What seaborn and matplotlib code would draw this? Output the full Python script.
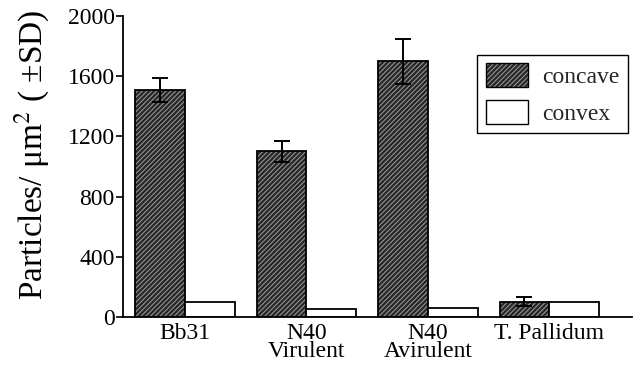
import numpy as np
import pandas as pd
import matplotlib
matplotlib.use("Agg")
import matplotlib.pyplot as plt
import matplotlib.patches as mpatches
import seaborn as sns

# datos
strains = ["Bb31", "N40\nVirulent", "N40\nAvirulent", "T. Pallidum"]
concave = [1510, 1100, 1700, 100]
concave_sd = [80, 70, 150, 30]
convex = [100, 50, 60, 100]

df = pd.DataFrame({
    "strain": strains * 2,
    "surface": ["concave"] * 4 + ["convex"] * 4,
    "value": concave + convex,
})

sns.set_theme(style="ticks")
plt.rcParams["font.family"] = ["Liberation Serif", "DejaVu Serif"]
plt.rcParams["mathtext.fontset"] = "stix"
plt.rcParams["hatch.linewidth"] = 0.8

fig = plt.figure(figsize=(6.37, 3.71), dpi=100)
ax = fig.add_axes([123 / 637, 1 - 317 / 371, (632 - 123) / 637, (317 - 16) / 371])

dark = "#262626"
hatch_col = (0.58, 0.58, 0.58, 1)
sns.barplot(data=df, x="strain", y="value", hue="surface",
            palette={"concave": dark, "convex": "white"},
            width=0.82, edgecolor="black", linewidth=1.3,
            legend=False, ax=ax)

bars = [p for p in ax.patches if isinstance(p, mpatches.Rectangle)]
conc_bars = bars[:4]
for p in conc_bars:
    p.set_hatch("///////")
    p._hatch_color = hatch_col

xs = [p.get_x() + p.get_width() / 2 for p in conc_bars]
ax.errorbar(xs, concave, yerr=concave_sd, fmt="none", ecolor="black",
            elinewidth=1.4, capsize=6, capthick=1.4)

ax.set_ylim(0, 2000)
ax.set_xlim(-0.51, 3.68)
ax.set_yticks([0, 400, 800, 1200, 1600, 2000])
ax.tick_params(axis="y", direction="out", length=5, width=1.2, labelsize=17, pad=1, colors="black")
ax.tick_params(axis="x", length=0, labelsize=17, pad=4, colors="black")
for lab in ax.get_xticklabels():
    lab.set_linespacing(0.85)
sns.despine(ax=ax)
for s in ["left", "bottom"]:
    ax.spines[s].set_linewidth(1.3)
    ax.spines[s].set_color("black")

ax.set_xlabel("")
ax.set_ylabel("Particles/ μm$^2$ ( ±SD)", fontsize=24, color="black")
ax.yaxis.set_label_coords(-0.14, 0.54)

handles = [
    mpatches.Patch(facecolor=dark, edgecolor="black", hatch="///////", label="concave"),
    mpatches.Patch(facecolor="white", edgecolor="black", label="convex"),
]
for h in handles:
    h._hatch_color = hatch_col
leg = ax.legend(handles=handles, loc="upper right", fontsize=17,
                bbox_to_anchor=(628 / 637, 1 - 55 / 371), bbox_transform=fig.transFigure,
                borderaxespad=0, fancybox=False, framealpha=1, edgecolor="black",
                handlelength=1.8, handleheight=1.2, handletextpad=0.6,
                labelspacing=0.5, borderpad=0.35)
leg.get_frame().set_linewidth(1.0)

fig.savefig("out.png", dpi=100)
